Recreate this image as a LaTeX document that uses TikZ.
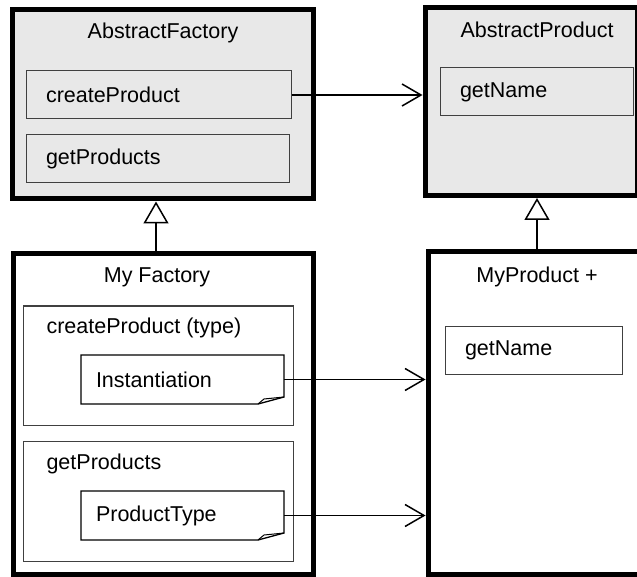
\documentclass[tikz,border=0pt]{standalone}
\usepackage{fontspec}
\setmainfont{Liberation Sans}
\usepackage{tikz}
\usetikzlibrary{arrows.meta, calc}

\definecolor{boxgray}{HTML}{E8E8E8}
\definecolor{edgegray}{HTML}{404040}

\tikzset{
  classbox/.style={draw, line width=5pt, minimum width=#1, inner sep=0pt},
  opbox/.style={draw=edgegray, line width=1pt, text width=#1, align=left,
    inner xsep=20pt, minimum height=48pt, inner ysep=0pt},
  groupbox/.style={draw=edgegray, line width=1pt, inner sep=0pt},
  notebox/.style={text width=#1, align=left, inner xsep=15pt, inner ysep=0pt,
    minimum height=49pt, outer sep=0pt},
  assoc/.style={line width=1.5pt, -{Straight Barb[length=19pt, width=22pt, line width=1.5pt]}},
  inherit/.style={line width=1.5pt, -{Triangle[open, length=22pt, width=25pt, line width=1.5pt]}}
}

\newcommand{\notefold}[1]{%
  \draw[line width=1.3pt] (#1.north west) -- (#1.north east) -- ([yshift=7pt]#1.south east)
    -- ([xshift=-26pt]#1.south east) -- (#1.south west) -- cycle;
  \draw[line width=1pt] ([xshift=-26pt]#1.south east) -- ([xshift=-20pt,yshift=5pt]#1.south east)
    -- ([yshift=7pt]#1.south east);
}

\begin{document}
\begin{tikzpicture}[x=1pt, y=-1pt, font=\fontsize{21.5}{25}\selectfont]
\useasboundingbox (0,0) rectangle (637,577);

\node[classbox=301pt, minimum height=189pt, fill=boxgray] (af) at (162.5,104.5) {};
\node[classbox=212pt, minimum height=188pt, fill=boxgray] (ap) at (531,101.5) {};
\node[classbox=300pt, minimum height=320pt, fill=white] (mf) at (163,414) {};
\node[classbox=212pt, minimum height=322pt, fill=white] (mp) at (534,413) {};

\path
(163,33) node (af-title) {AbstractFactory};
\path
(537,30) node (ap-title) {AbstractProduct};
\path
(157,277) node (mf-title) {My Factory};
\path
(537,277) node (mp-title) {MyProduct +};

\node[opbox=225pt, fill=boxgray] (af-create) at (158.5,95) {createProduct};
\node[opbox=223pt, fill=boxgray] (af-get) at (157.5,159) {getProducts};
\node[opbox=153pt, fill=boxgray] (ap-name) at (536.5,92) {getName};
\node[opbox=137pt, fill=white] (mp-name) at (533.5,350) {getName};

\node[groupbox, minimum width=270pt, minimum height=119pt] (mf-create) at (158,365.5) {};
\node[groupbox, minimum width=270pt, minimum height=120pt] (mf-get) at (158,501) {};
\node[anchor=west] (mf-create-lbl) at (43,328) {createProduct (type)};
\node[anchor=west] (mf-get-lbl) at (43,464) {getProducts};

\node[notebox=173pt] (inst) at (182.5,379.5) {Instantiation};
\node[notebox=173pt] (ptype) at (182.5,515.5) {ProductType};
\notefold{inst}
\notefold{ptype}

\coordinate (af-gen) at (156,0);
\coordinate (ap-gen) at (537,0);
\draw[inherit] (af-gen |- mf.north) -- (af-gen |- af.south);
\draw[inherit] (ap-gen |- mp.north) -- (ap-gen |- ap.south);

\draw[assoc] (af-create.east) -- (af-create.east -| ap.west);
\draw[assoc] (inst.east) -- (inst.east -| mp.west);
\draw[assoc] (ptype.east) -- (ptype.east -| mp.west);
\end{tikzpicture}
\end{document}
